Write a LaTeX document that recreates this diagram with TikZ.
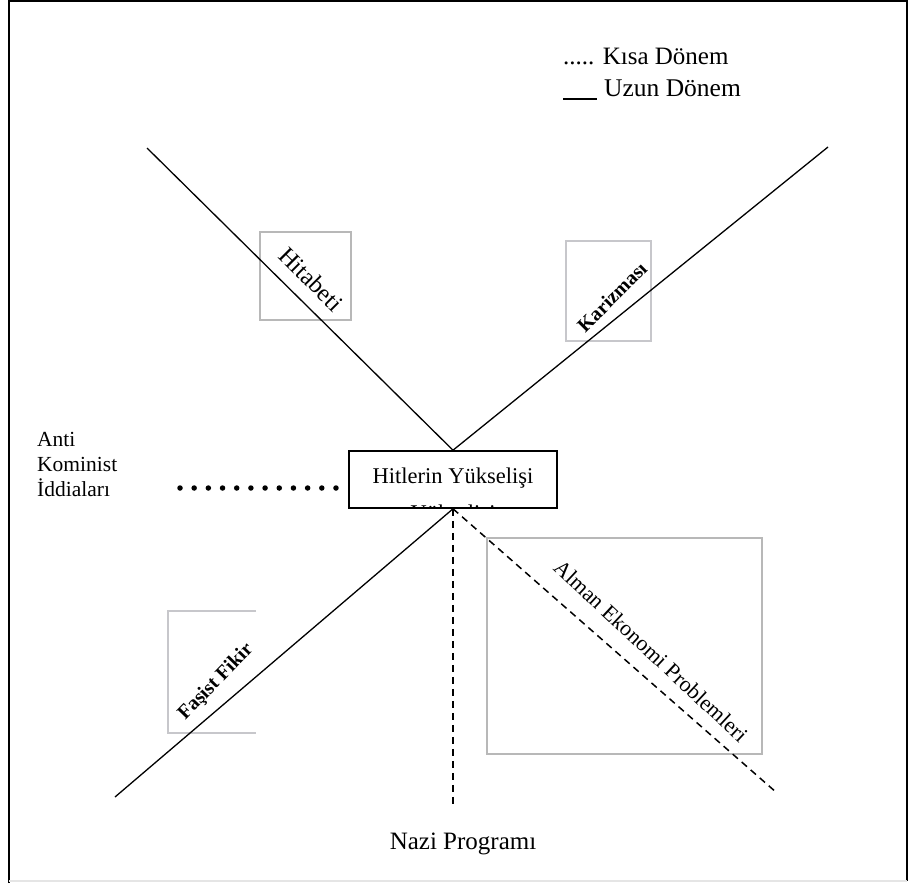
\documentclass[tikz,border=0pt]{standalone}
\usepackage{fontspec}
\setmainfont{Liberation Serif}
\begin{document}
\begin{tikzpicture}[x=1pt,y=-1pt,
  lbl/.style={font=\fontsize{22.5}{25}\selectfont, inner sep=0pt},
  blbl/.style={font=\bfseries\fontsize{20}{25}\selectfont, inner sep=0pt},
  gbox/.style={draw=black!28, line width=1.6},
  bbox/.style={draw=blue!8!black!22, line width=1.6},
  solidln/.style={line width=1.3},
  dashln/.style={line width=1.5, dash pattern=on 7 off 5},
  dotln/.style={line width=5.5, line cap=round, dash pattern=on 0 off 14.18}]
\useasboundingbox (0,0) rectangle (909,883);
% frame
\draw[line width=1.5] (9,883) -- (9,1) -- (907,1) -- (907,881);
\draw[black!10, line width=1.2] (9,881) -- (907,881);
% legend
\node[lbl, font=\fontsize{25}{25}\selectfont, anchor=west] (leg1) at (563,56) {..... Kısa Dönem};
\node[lbl, font=\fontsize{25.5}{25}\selectfont, anchor=west] (leg2) at (604,88) {Uzun Dönem};
\coordinate (l2a) at (563,99);
\coordinate (l2b) at (597,99);
\draw[line width=1.6] (l2a) -- (l2b);
% label boxes
\draw[gbox] (260,232) rectangle (351,320);
\draw[bbox] (566,241) rectangle (651,341);
\draw[gbox] (487,538) rectangle (762,754);
\draw[bbox] (256,611) -- (168,611) -- (168,733) -- (256,733);
% central box
\node[draw, line width=1.6, minimum width=208pt, minimum height=57pt, inner sep=0pt] (hy) at (453,479.5) {};
\node[lbl] (hyt) at (453,478) {Hitlerin Yükselişi};
\begin{scope}
\clip (349,451) rectangle (557,507.5);
\node[lbl] (hyt2) at (453,515) {Yükselişi};
\end{scope}
% endpoints
\coordinate (ul) at (147,148);
\coordinate (ur) at (828,147);
\coordinate (ll) at (115,797);
\coordinate (lv) at (453,805);
\coordinate (lr) at (777,793);
\coordinate (d1) at (180,488);
\coordinate (d2) at (336.1,488);
% connectors
\draw[solidln] (ul) -- (hy.north) -- (ur);
\draw[solidln] (hy.south) -- (ll);
\draw[dashln] (hy.south) -- (lv);
\draw[dashln] (hy.south) -- (lr);
\draw[dotln] (d1) -- (d2);
% rotated labels
\node[lbl, font=\fontsize{24.5}{25}\selectfont, rotate=-45] (hit) at (311,279) {Hitabeti};
\node[blbl, rotate=45] (kar) at (612,297) {Karizması};
\node[blbl, rotate=46] (fas) at (216,682) {Faşist Fikir};
\node[lbl, font=\fontsize{22}{25}\selectfont, rotate=-43] (alm) at (651,651) {Alman Ekonomi Problemleri};
% side labels
\node[lbl, anchor=north west, align=left, font=\fontsize{21.5}{25}\selectfont] (anti) at (37,432) {Anti\\Kominist\\İddiaları};
\node[lbl, font=\fontsize{25}{25}\selectfont] (nazi) at (463,844) {Nazi Programı};
\end{tikzpicture}
\end{document}
